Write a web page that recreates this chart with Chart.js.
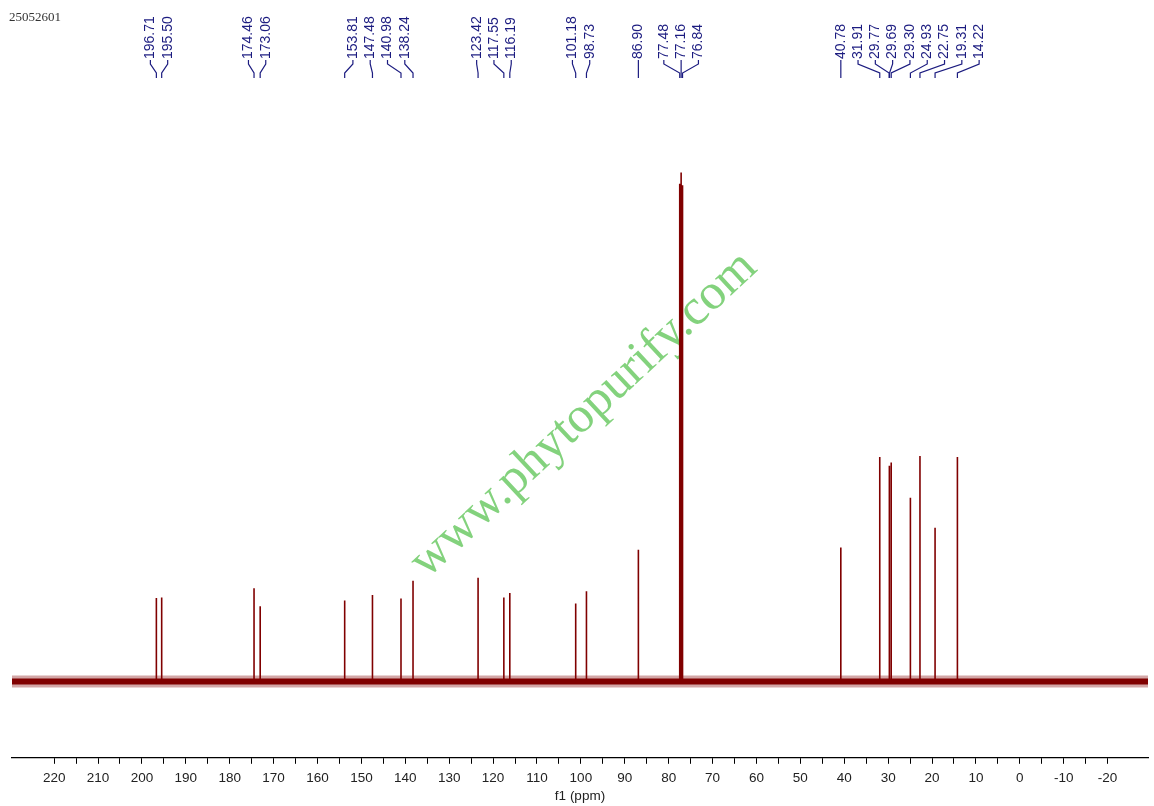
<!DOCTYPE html>
<html lang="en">
<head>
  <meta charset="UTF-8" />
  <title>25052601 13C NMR</title>
  <script src="https://cdn.jsdelivr.net/npm/chart.js"></script>
  <style>
    body { margin: 0; background: #fff; }
    #wrap { width: 1154px; height: 806px; position: relative; }
  </style>
</head>
<body>
  <div id="wrap"><canvas id="nmrChart"></canvas></div>

  <script>
    // spectrum window (ppm), reversed as usual for NMR
    const xMin = -29.2;
    const xMax = 229.6;
    const tickStep = 5;
    const labelStep = 10;

    // picked peaks (ppm) and their heights (tallest = 100)
    const peakShifts = [196.71, 195.50, 174.46, 173.06, 153.81, 147.48, 140.98, 138.24,
                        123.42, 117.55, 116.19, 101.18, 98.73, 86.90, 77.48, 77.16, 76.84,
                        40.78, 31.91, 29.77, 29.69, 29.30, 24.93, 22.75, 19.31, 14.22];
    const peakHeights = [16.4, 16.5, 18.3, 14.8, 15.9, 17.0, 16.3, 19.8,
                         20.4, 16.5, 17.4, 15.3, 17.7, 25.9, 97.8, 100, 97.5,
                         26.3, 44.1, 42.4, 40.5, 43.0, 36.1, 44.3, 30.2, 44.1];

    const sampleName = '25052601';
    const watermark = 'www.phytopurify.com';

    // spectrum trace: flat baseline with a stick at every peak
    const spectrum = [{ x: xMax, y: 0 }];
    peakShifts.forEach((p, i) => {
      spectrum.push({ x: p, y: 0 }, { x: p, y: peakHeights[i] }, { x: p, y: 0 });
    });
    spectrum.push({ x: xMin, y: 0 });
    const baseline = [{ x: xMax, y: 0 }, { x: xMin, y: 0 }];

    const labelColor = 'rgb(28, 28, 128)';
    const labelGap = 17.3;
    const groupDist = 33;

    const overlay = {
      id: 'overlay',
      beforeDatasetsDraw(chart) {
        const ctx = chart.ctx;
        ctx.save();
        ctx.translate(427, 579);
        ctx.rotate(-43 * Math.PI / 180);
        ctx.font = '50.5px "Liberation Serif", "Times New Roman", serif';
        ctx.fillStyle = 'rgba(124, 208, 118, 0.95)';
        ctx.textAlign = 'left';
        ctx.textBaseline = 'alphabetic';
        ctx.fillText(watermark, 0, 0);
        ctx.restore();
      },
      afterDraw(chart) {
        const ctx = chart.ctx;
        const xs = chart.scales.x;
        const px = peakShifts.map(p => xs.getPixelForValue(p));

        // chain peaks that sit close together into label groups
        const groups = [];
        px.forEach((x, i) => {
          const g = groups[groups.length - 1];
          if (g && x - px[g[g.length - 1]] < groupDist) g.push(i);
          else groups.push([i]);
        });
        const place = g => {
          const mid = (px[g[0]] + px[g[g.length - 1]]) / 2;
          return g.map((_, k) => mid + (k - (g.length - 1) / 2) * labelGap);
        };
        let merged = true;
        while (merged) {
          merged = false;
          for (let k = 0; k < groups.length - 1; k++) {
            const a = place(groups[k]), b = place(groups[k + 1]);
            if (b[0] - a[a.length - 1] < labelGap - 1.5) {
              groups.splice(k, 2, groups[k].concat(groups[k + 1]));
              merged = true;
              break;
            }
          }
        }

        ctx.save();
        ctx.strokeStyle = labelColor;
        ctx.fillStyle = labelColor;
        ctx.lineWidth = 1.2;
        ctx.font = '14px "Liberation Sans", Arial, sans-serif';
        groups.forEach(g => {
          const lx = place(g);
          g.forEach((i, k) => {
            ctx.beginPath();
            ctx.moveTo(lx[k], 60);
            ctx.lineTo(lx[k], 64);
            ctx.lineTo(px[i], 73);
            ctx.lineTo(px[i], 78);
            ctx.stroke();

            ctx.save();
            ctx.translate(lx[k], 59);
            ctx.rotate(-Math.PI / 2);
            ctx.textAlign = 'left';
            ctx.textBaseline = 'middle';
            ctx.fillText(peakShifts[i].toFixed(2), 0, 0);
            ctx.restore();
          });
        });

        ctx.fillStyle = '#333';
        ctx.font = '13px "Liberation Serif", "Times New Roman", serif';
        ctx.textAlign = 'left';
        ctx.textBaseline = 'alphabetic';
        ctx.fillText(sampleName, 9, 21);
        ctx.restore();
      }
    };

    Chart.defaults.font.family = '"Liberation Sans", Arial, sans-serif';

    const ctx = document.getElementById('nmrChart').getContext('2d');
    new Chart(ctx, {
      type: 'line',
      data: {
        datasets: [
          {
            data: spectrum,
            borderColor: '#800000',
            borderWidth: 1.6,
            borderJoinStyle: 'bevel',
            pointRadius: 0,
            tension: 0
          },
          {
            data: baseline,
            borderColor: '#800000',
            borderWidth: 6,
            pointRadius: 0
          },
          {
            data: baseline,
            borderColor: 'rgba(128, 0, 0, 0.35)',
            borderWidth: 12,
            pointRadius: 0
          }
        ]
      },
      options: {
        responsive: true,
        maintainAspectRatio: false,
        animation: false,
        layout: { padding: { top: 121.6, left: 12, right: 6, bottom: 1.4 } },
        plugins: {
          legend: { display: false },
          tooltip: { enabled: false }
        },
        scales: {
          x: {
            type: 'linear',
            reverse: true,
            min: xMin,
            max: xMax,
            afterBuildTicks: scale => {
              scale.ticks = scale.ticks.filter(t =>
                Math.abs(t.value / tickStep - Math.round(t.value / tickStep)) < 1e-6);
            },
            ticks: {
              stepSize: tickStep,
              maxTicksLimit: 200,
              autoSkip: false,
              maxRotation: 0,
              padding: 6.7,
              color: '#222',
              font: { size: 13.5 },
              callback: v => Math.abs(v % labelStep) < 1e-6 ? String(v) : ''
            },
            grid: {
              drawOnChartArea: false,
              drawTicks: true,
              tickLength: 6,
              tickColor: '#000'
            },
            border: { display: true, color: '#000', width: 1.2 },
            title: {
              display: true,
              text: 'f1 (ppm)',
              color: '#222',
              font: { size: 13.5 },
              padding: { top: -5, bottom: 0 }
            }
          },
          y: {
            display: false,
            min: -15,
            max: 110
          }
        }
      },
      plugins: [overlay]
    });
  </script>
</body>
</html>
